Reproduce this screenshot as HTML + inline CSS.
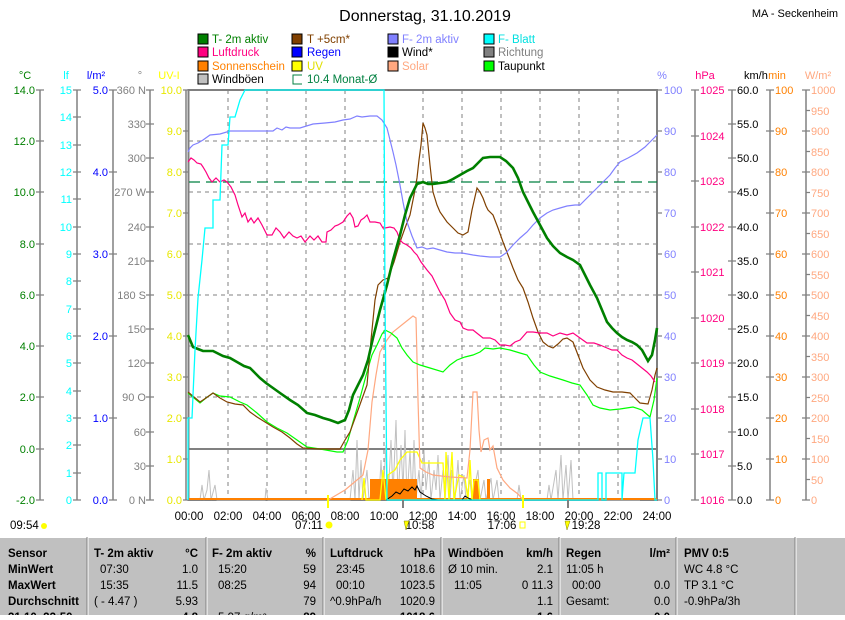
<!DOCTYPE html>
<html><head><meta charset="utf-8"><style>
body{margin:0;background:#fff;width:845px;height:615px;overflow:hidden;font-family:"Liberation Sans",sans-serif}
svg text{font-family:"Liberation Sans",sans-serif}
</style></head><body>
<svg width="845" height="615" viewBox="0 0 845 615" xmlns="http://www.w3.org/2000/svg">
<text x="425" y="21" font-size="16" text-anchor="middle">Donnerstag, 31.10.2019</text>
<text x="795" y="17" font-size="11" text-anchor="middle">MA - Seckenheim</text>
<!-- legend -->
<g font-size="11.5">
<rect x="198" y="34" width="10" height="10" fill="#008000" stroke="#000"/><text x="212" y="43" fill="#008000">T- 2m aktiv</text>
<rect x="292" y="34" width="10" height="10" fill="#804000" stroke="#000"/><text x="307" y="43" fill="#804000">T +5cm*</text>
<rect x="388" y="34" width="10" height="10" fill="#8080ff" stroke="#000"/><text x="402" y="43" fill="#8080ff">F- 2m aktiv</text>
<rect x="484" y="34" width="10" height="10" fill="#00ffff" stroke="#000"/><text x="498" y="43" fill="#00e0e0">F- Blatt</text>
<rect x="198" y="47" width="10" height="10" fill="#ff0080" stroke="#000"/><text x="212" y="56" fill="#ff0080">Luftdruck</text>
<rect x="292" y="47" width="10" height="10" fill="#0000ff" stroke="#000"/><text x="307" y="56" fill="#0000ff">Regen</text>
<rect x="388" y="47" width="10" height="10" fill="#000" stroke="#000"/><text x="402" y="56">Wind*</text>
<rect x="484" y="47" width="10" height="10" fill="#808080" stroke="#000"/><text x="498" y="56" fill="#808080">Richtung</text>
<rect x="198" y="61" width="10" height="10" fill="#ff8000" stroke="#000"/><text x="212" y="70" fill="#ff8000">Sonnenschein</text>
<rect x="292" y="61" width="10" height="10" fill="#ffff00" stroke="#000"/><text x="307" y="70" fill="#e0e000">UV</text>
<rect x="388" y="61" width="10" height="10" fill="#ffa880" stroke="#000"/><text x="402" y="70" fill="#ffa880">Solar</text>
<rect x="484" y="61" width="10" height="10" fill="#00ff00" stroke="#000"/><text x="498" y="70">Taupunkt</text>
<rect x="198" y="74" width="10" height="10" fill="#c0c0c0" stroke="#000"/><text x="212" y="83">Windböen</text>
<path d="M302 75 H293 V84 H302" fill="none" stroke="#008040"/><text x="307" y="83" fill="#008040">10.4 Monat-Ø</text>
</g>
<!-- units -->
<g font-size="11">
<text x="25" y="79" fill="#008000" text-anchor="middle">°C</text>
<text x="66" y="79" fill="#00ffff" text-anchor="middle">lf</text>
<text x="96" y="79" fill="#0000ff" text-anchor="middle">l/m²</text>
<text x="140" y="79" fill="#808080" text-anchor="middle">°</text>
<text x="169" y="79" fill="#ffff00" text-anchor="middle">UV-I</text>
<text x="662" y="79" fill="#8080ff" text-anchor="middle">%</text>
<text x="705" y="79" fill="#ff0080" text-anchor="middle">hPa</text>
<text x="744" y="79">km/h</text>
<text x="777" y="79" fill="#ff8000" text-anchor="middle">min</text>
<text x="818" y="79" fill="#ffa880" text-anchor="middle">W/m²</text>
</g>
<!-- axis lines -->
<g stroke="#808080" stroke-width="1.5">
<line x1="40" y1="90" x2="40" y2="500"/><line x1="77" y1="90" x2="77" y2="500"/>
<line x1="113" y1="90" x2="113" y2="500"/><line x1="150" y1="90" x2="150" y2="500"/>
<line x1="186" y1="90" x2="186" y2="500"/>
<line x1="695" y1="90" x2="695" y2="500"/><line x1="732" y1="90" x2="732" y2="500"/>
<line x1="770" y1="90" x2="770" y2="500"/><line x1="806" y1="90" x2="806" y2="500"/>
</g>
<!-- tick marks -->
<g stroke="#808080" stroke-width="1.2" fill="none">
<path d="M36 90H44M36 141H44M36 192H44M36 244H44M36 295H44M36 346H44M36 397H44M36 449H44M36 500H44"/>
<path d="M73 90H81M73 117H81M73 145H81M73 172H81M73 199H81M73 227H81M73 254H81M73 281H81M73 309H81M73 336H81M73 363H81M73 391H81M73 418H81M73 445H81M73 473H81M73 500H81"/>
<path d="M109 90H117M109 172H117M109 254H117M109 336H117M109 418H117M109 500H117"/>
<path d="M146 90H154M146 124H154M146 158H154M146 192H154M146 227H154M146 261H154M146 295H154M146 329H154M146 363H154M146 397H154M146 432H154M146 466H154M146 500H154"/>
<path d="M183 90H188M183 131H188M183 172H188M183 213H188M183 254H188M183 295H188M183 336H188M183 377H188M183 418H188M183 459H188M183 500H188"/>
<path d="M657 90H662M657 131H662M657 172H662M657 213H662M657 254H662M657 295H662M657 336H662M657 377H662M657 418H662M657 459H662M657 500H662"/>
<path d="M691 90H699M691 136H699M691 181H699M691 227H699M691 272H699M691 318H699M691 363H699M691 409H699M691 454H699M691 500H699"/>
<path d="M728 90H736M728 124H736M728 158H736M728 192H736M728 227H736M728 261H736M728 295H736M728 329H736M728 363H736M728 397H736M728 432H736M728 466H736M728 500H736"/>
<path d="M766 90H774M766 131H774M766 172H774M766 213H774M766 254H774M766 295H774M766 336H774M766 377H774M766 418H774M766 459H774M766 500H774"/>
<path d="M802 90H810M806 110.5H810M802 131H810M806 151.5H810M802 172H810M806 192.5H810M802 213H810M806 233.5H810M802 254H810M806 274.5H810M802 295H810M806 315.5H810M802 336H810M806 356.5H810M802 377H810M806 397.5H810M802 418H810M806 438.5H810M802 459H810M806 479.5H810M802 500H810"/>
</g>
<g font-size="11" fill="#008000" text-anchor="end">
<text x="35" y="94">14.0</text><text x="35" y="145">12.0</text><text x="35" y="196">10.0</text><text x="35" y="248">8.0</text><text x="35" y="299">6.0</text><text x="35" y="350">4.0</text><text x="35" y="401">2.0</text><text x="35" y="453">0.0</text><text x="35" y="504">-2.0</text>
</g>
<g font-size="11" fill="#00ffff" text-anchor="end">
<text x="72" y="94">15</text><text x="72" y="121">14</text><text x="72" y="149">13</text><text x="72" y="176">12</text><text x="72" y="203">11</text><text x="72" y="231">10</text><text x="72" y="258">9</text><text x="72" y="285">8</text><text x="72" y="313">7</text><text x="72" y="340">6</text><text x="72" y="367">5</text><text x="72" y="395">4</text><text x="72" y="422">3</text><text x="72" y="449">2</text><text x="72" y="477">1</text><text x="72" y="504">0</text>
</g>
<g font-size="11" fill="#0000ff" text-anchor="end">
<text x="108" y="94">5.0</text><text x="108" y="176">4.0</text><text x="108" y="258">3.0</text><text x="108" y="340">2.0</text><text x="108" y="422">1.0</text><text x="108" y="504">0.0</text>
</g>
<g font-size="11" fill="#808080" text-anchor="end">
<text x="146" y="94">360 N</text><text x="146" y="128">330</text><text x="146" y="162">300</text><text x="146" y="196">270 W</text><text x="146" y="231">240</text><text x="146" y="265">210</text><text x="146" y="299">180 S</text><text x="146" y="333">150</text><text x="146" y="367">120</text><text x="146" y="401">90 O</text><text x="146" y="436">60</text><text x="146" y="470">30</text><text x="146" y="504">0 N</text>
</g>
<g font-size="11" fill="#e8e800" text-anchor="end">
<text x="182" y="94">10.0</text><text x="182" y="135">9.0</text><text x="182" y="176">8.0</text><text x="182" y="217">7.0</text><text x="182" y="258">6.0</text><text x="182" y="299">5.0</text><text x="182" y="340">4.0</text><text x="182" y="381">3.0</text><text x="182" y="422">2.0</text><text x="182" y="463">1.0</text><text x="182" y="504">0.0</text>
</g>
<g font-size="11" fill="#8080ff">
<text x="664" y="94">100</text><text x="664" y="135">90</text><text x="664" y="176">80</text><text x="664" y="217">70</text><text x="664" y="258">60</text><text x="664" y="299">50</text><text x="664" y="340">40</text><text x="664" y="381">30</text><text x="664" y="422">20</text><text x="664" y="463">10</text><text x="664" y="504">0</text>
</g>
<g font-size="11" fill="#ff0080">
<text x="700" y="94">1025</text><text x="700" y="140">1024</text><text x="700" y="185">1023</text><text x="700" y="231">1022</text><text x="700" y="276">1021</text><text x="700" y="322">1020</text><text x="700" y="367">1019</text><text x="700" y="413">1018</text><text x="700" y="458">1017</text><text x="700" y="504">1016</text>
</g>
<g font-size="11">
<text x="737" y="94">60.0</text><text x="737" y="128">55.0</text><text x="737" y="162">50.0</text><text x="737" y="196">45.0</text><text x="737" y="231">40.0</text><text x="737" y="265">35.0</text><text x="737" y="299">30.0</text><text x="737" y="333">25.0</text><text x="737" y="367">20.0</text><text x="737" y="401">15.0</text><text x="737" y="436">10.0</text><text x="737" y="470">5.0</text><text x="737" y="504">0.0</text>
</g>
<g font-size="11" fill="#ff8000">
<text x="775" y="94">100</text><text x="775" y="135">90</text><text x="775" y="176">80</text><text x="775" y="217">70</text><text x="775" y="258">60</text><text x="775" y="299">50</text><text x="775" y="340">40</text><text x="775" y="381">30</text><text x="775" y="422">20</text><text x="775" y="463">10</text><text x="775" y="504">0</text>
</g>
<g font-size="11" fill="#ffa880">
<text x="811" y="94">1000</text><text x="811" y="115">950</text><text x="811" y="135">900</text><text x="811" y="156">850</text><text x="811" y="176">800</text><text x="811" y="197">750</text><text x="811" y="217">700</text><text x="811" y="238">650</text><text x="811" y="258">600</text><text x="811" y="279">550</text><text x="811" y="299">500</text><text x="811" y="320">450</text><text x="811" y="340">400</text><text x="811" y="361">350</text><text x="811" y="381">300</text><text x="811" y="402">250</text><text x="811" y="422">200</text><text x="811" y="443">150</text><text x="811" y="463">100</text><text x="811" y="484">50</text><text x="811" y="504">0</text>
</g>
<!-- grid -->
<g stroke="#808080" stroke-dasharray="4,4" stroke-width="1">
<line x1="228" y1="90" x2="228" y2="500"/><line x1="267" y1="90" x2="267" y2="500"/><line x1="306" y1="90" x2="306" y2="500"/><line x1="345" y1="90" x2="345" y2="500"/><line x1="384" y1="90" x2="384" y2="500"/><line x1="423" y1="90" x2="423" y2="500"/><line x1="462" y1="90" x2="462" y2="500"/><line x1="501" y1="90" x2="501" y2="500"/><line x1="540" y1="90" x2="540" y2="500"/><line x1="579" y1="90" x2="579" y2="500"/><line x1="618" y1="90" x2="618" y2="500"/>
<line x1="189" y1="141" x2="657" y2="141"/><line x1="189" y1="192" x2="657" y2="192"/><line x1="189" y1="244" x2="657" y2="244"/><line x1="189" y1="295" x2="657" y2="295"/><line x1="189" y1="346" x2="657" y2="346"/><line x1="189" y1="397" x2="657" y2="397"/>
</g>
<rect x="188.5" y="90" width="468.5" height="410" fill="none" stroke="#808080" stroke-width="2"/>
<line x1="189" y1="449" x2="657" y2="449" stroke="#808080" stroke-width="2"/>
<line x1="189" y1="182" x2="657" y2="182" stroke="#008040" stroke-dasharray="11,6" stroke-width="1.2"/>
<!-- gusts -->
<polyline fill="none" stroke="#c0c0c0" stroke-width="1" points="200,500 202,485 204,500 207,490 209,470 211,500 215,485 217,500 265,500 266,488 268,500 350,500 353,470 355,500 357,440 359,500 361,460 363,500 367,470 369,500 377,480 379,500 381,460 383,500 386,445 388,500 391,440 393,495 396,420 398,500 401,445 403,490 405,430 407,500 410,450 412,500 414,440 416,500 419,470 421,500 424,450 426,490 429,460 431,500 434,470 436,490 438,455 440,500 443,470 445,500 448,455 450,500 452,470 455,500 458,460 460,500 464,475 466,500 470,480 472,500 478,470 480,500 484,480 486,500 491,478 493,500 497,480 499,500 517,500 519,485 521,500 547,500 549,485 551,500 556,470 558,500 561,455 563,500 566,465 568,500 571,460 573,500 640,500"/>
<!-- sunshine bars -->
<rect x="370" y="479" width="47" height="21" fill="#ff8000"/>
<rect x="473" y="479" width="6" height="21" fill="#ff8000"/>
<rect x="487" y="479" width="3" height="21" fill="#ff8000"/>
<line x1="189" y1="499" x2="657" y2="499" stroke="#ff8000" stroke-width="2"/>
<!-- UV -->
<polyline fill="none" stroke="#ffff00" stroke-width="1.3" points="362,500 364,478 366,500 380,500 383,470 386,500 388,475 395,470 400,460 407,452 417,452 422,463 443,463 445,500 446,452 449,500 452,452 454,500 459,475 465,478 468,500 470,460 472,500 474,480 478,480 480,500"/>
<!-- solar -->
<polyline fill="none" stroke="#ffa880" stroke-width="1.2" points="328,500 345,490 363,475 368,450 372,402 376,375 380,352 387,340 393,332 403,324 413,316 416,318 418,400 420,468 426,472 433,475 450,477 467,478 470,450 473,392 477,392 479,430 481,452 484,440 488,438 490,450 493,446 497,468 503,480 510,488 518,494 523,500"/>
<!-- wind black -->
<polyline fill="none" stroke="#000" stroke-width="1" points="386,500 392,496 396,492 400,494 404,489 408,491 412,487 415,490 417,486 420,492 426,496 432,499 438,500 462,500 465,496 468,498 472,500"/>
<!-- dew point -->
<polyline fill="none" stroke="#00ff00" stroke-width="1.2" points="188,393 194,398 200,403 206,398 213,393 220,396 230,397 240,402 247,405 257,413 267,422 277,428 287,433 297,440 307,447 320,449 337,452 343,452 348,440 353,422 360,398 367,372 372,355 377,345 382,334 385,330 391,333 397,338 402,348 407,355 413,362 420,365 430,368 443,372 450,365 457,360 465,357 473,355 480,352 485,348 493,349 500,348 510,350 520,353 527,355 534,365 540,372 550,376 563,380 572,383 580,385 587,395 593,405 600,408 610,410 620,409 633,407 642,410 650,417 654,400 657,378"/>
<!-- T5cm -->
<polyline fill="none" stroke="#804000" stroke-width="1.2" points="188,392 194,397 200,402 206,398 213,393 220,398 227,402 235,404 243,405 250,412 257,417 265,422 273,427 282,432 290,438 297,444 303,448 320,449 340,449 345,440 350,432 358,410 367,385 371,340 375,300 378,285 383,280 388,278 394,262 400,242 405,228 410,215 414,195 417,178 419,160 421,145 423,123 425,128 427,135 430,165 433,192 437,205 440,212 447,222 453,228 458,233 463,235 468,232 472,210 477,188 480,192 483,198 486,206 488,210 493,215 498,228 503,242 508,255 513,268 518,280 523,288 528,302 533,318 538,332 543,342 548,346 553,348 558,344 563,339 567,338 573,342 578,355 583,368 590,380 597,387 605,390 613,392 622,392 630,393 635,398 640,403 648,404 652,390 655,375 657,368"/>
<!-- pressure -->
<polyline fill="none" stroke="#ff0080" stroke-width="1.2" points="188,162 191,158 194,160 197,163 201,164 203,167 206,172 209,178 212,182 216,178 220,182 224,180 227,182 231,187 235,195 238,205 242,217 245,213 248,222 251,218 254,223 258,218 262,225 267,235 272,235 276,228 280,232 284,238 289,232 293,236 297,238 301,236 305,242 310,236 314,240 318,236 322,242 326,242 327,232 331,230 335,226 338,225 343,222 347,216 350,213 353,218 355,227 358,226 361,220 364,218 367,215 370,222 375,222 380,223 383,228 385,228 390,227 394,228 397,232 400,240 403,243 407,245 411,248 414,252 417,255 421,262 424,266 427,270 432,276 437,286 440,292 445,300 450,313 455,320 460,322 463,328 468,330 473,330 478,334 483,338 490,338 495,340 500,345 505,345 510,346 515,342 520,340 527,332 533,332 540,333 547,333 553,336 560,333 567,335 573,333 580,338 587,343 594,343 600,345 607,348 612,350 617,350 622,355 627,358 632,360 637,364 642,368 647,372 651,376 655,382"/>
<!-- humidity -->
<polyline fill="none" stroke="#8080ff" stroke-width="1.2" points="188,152 190,148 193,145 198,143 203,140 210,135 220,134 230,131 245,131 260,131 273,131 277,128 282,130 286,127 290,128 300,128 313,124 325,123 335,122 343,120 350,119 357,116 362,117 370,116 377,116 382,120 387,128 390,140 393,152 396,165 400,185 403,202 407,222 412,236 417,248 422,247 427,249 433,248 440,250 447,252 455,253 462,253 473,255 480,256 490,257 500,257 506,253 513,245 520,238 527,232 533,225 540,218 547,213 553,210 560,208 567,206 575,205 580,205 586,199 592,193 597,188 603,182 610,175 615,168 620,162 628,158 637,153 645,147 650,142 654,138 657,135"/>
<!-- T2m -->
<polyline fill="none" stroke="#008000" stroke-width="2.6" points="188,335 193,347 198,349 203,351 213,351 223,356 230,358 237,362 244,366 250,368 255,373 260,378 266,383 273,388 280,393 290,400 298,405 307,413 315,415 323,418 330,420 338,423 345,420 349,410 353,395 358,385 363,375 368,360 373,338 380,310 387,285 393,260 400,235 405,215 410,198 414,190 417,184 423,182 428,184 433,184 440,183 447,182 453,179 460,175 467,171 473,168 478,163 483,158 490,157 500,157 506,161 513,168 518,178 523,192 528,202 533,212 540,225 547,238 553,246 560,253 567,257 573,260 580,265 585,275 590,285 597,298 602,310 607,322 612,328 617,333 622,337 627,340 632,342 637,345 642,350 648,361 652,355 655,340 657,328"/>
<!-- leaf wetness -->
<polyline fill="none" stroke="#00ffff" stroke-width="1.3" points="188,500 188,418 192,418 195,350 198,298 202,260 205,228 213,228 213,200 220,200 222,145 228,145 230,117 235,117 240,100 245,90 384,90 385,300 387,500 598,500 598,473 602,473 602,500 606,500 606,473 622,473 622,500 624,473 635,473 638,440 643,418 650,418 653,460 655,500 657,500"/>
<!-- markers -->
<line x1="328" y1="495" x2="328" y2="508" stroke="#ffff00" stroke-width="2"/>
<line x1="523" y1="495" x2="523" y2="508" stroke="#ffff00" stroke-width="2"/>
<line x1="403" y1="500" x2="403" y2="508" stroke="#808080" stroke-width="2"/>
<line x1="568" y1="500" x2="568" y2="508" stroke="#808080" stroke-width="2"/>
<!-- x labels -->
<g font-size="11.5" text-anchor="middle">
<text x="189" y="520">00:00</text><text x="228" y="520">02:00</text><text x="267" y="520">04:00</text><text x="306" y="520">06:00</text><text x="345" y="520">08:00</text><text x="384" y="520">10:00</text><text x="423" y="520">12:00</text><text x="462" y="520">14:00</text><text x="501" y="520">16:00</text><text x="540" y="520">18:00</text><text x="579" y="520">20:00</text><text x="618" y="520">22:00</text><text x="657" y="520">24:00</text>
<text x="309" y="529">07:11</text><text x="420" y="529">10:58</text><text x="502" y="529">17:06</text><text x="586" y="529">19:28</text>
</g>
<text x="10" y="529" font-size="11.5">09:54</text>
<circle cx="44" cy="526" r="3" fill="#ffff00"/>
<circle cx="329" cy="525" r="3.5" fill="#ffff00"/>
<rect x="520" y="522" width="5" height="6" fill="none" stroke="#ffff00"/>
<path d="M404 521 L406 530 L409 521 Z" fill="#ffff00" stroke="#808000" stroke-width="0.5"/>
<path d="M565 521 L567 530 L570 521 Z" fill="#ffff00" stroke="#808000" stroke-width="0.5"/>
<!-- table -->
<rect x="0" y="537" width="845" height="78" fill="#c0c0c0"/>
<g stroke="#ffffff" stroke-width="1"><line x1="0" y1="537.5" x2="845" y2="537.5"/></g>
<g stroke="#808080" stroke-width="1">
<line x1="87" y1="537" x2="87" y2="615"/><line x1="206" y1="537" x2="206" y2="615"/><line x1="323" y1="537" x2="323" y2="615"/><line x1="441" y1="537" x2="441" y2="615"/><line x1="559" y1="537" x2="559" y2="615"/><line x1="676" y1="537" x2="676" y2="615"/><line x1="795" y1="537" x2="795" y2="615"/>
</g>
<g stroke="#fff" stroke-width="1">
<line x1="88" y1="537" x2="88" y2="615"/><line x1="207" y1="537" x2="207" y2="615"/><line x1="324" y1="537" x2="324" y2="615"/><line x1="442" y1="537" x2="442" y2="615"/><line x1="560" y1="537" x2="560" y2="615"/><line x1="677" y1="537" x2="677" y2="615"/><line x1="796" y1="537" x2="796" y2="615"/>
</g>
<g font-size="11.5" font-weight="bold">
<text x="8" y="557">Sensor</text><text x="8" y="573">MinWert</text><text x="8" y="589">MaxWert</text><text x="8" y="605">Durchschnitt</text><text x="8" y="621">31.10. 23:50</text>
<text x="94" y="557">T- 2m aktiv</text><text x="198" y="557" text-anchor="end">°C</text>
<text x="212" y="557">F- 2m aktiv</text><text x="316" y="557" text-anchor="end">%</text>
<text x="330" y="557">Luftdruck</text><text x="435" y="557" text-anchor="end">hPa</text>
<text x="448" y="557">Windböen</text><text x="553" y="557" text-anchor="end">km/h</text>
<text x="566" y="557">Regen</text><text x="670" y="557" text-anchor="end">l/m²</text>
<text x="684" y="557">PMV 0:5</text>
</g>
<g font-size="11.5">
<text x="100" y="573">07:30</text><text x="198" y="573" text-anchor="end">1.0</text>
<text x="100" y="589">15:35</text><text x="198" y="589" text-anchor="end">11.5</text>
<text x="94" y="605">( - 4.47 )</text><text x="198" y="605" text-anchor="end">5.93</text>
<text x="218" y="573">15:20</text><text x="316" y="573" text-anchor="end">59</text>
<text x="218" y="589">08:25</text><text x="316" y="589" text-anchor="end">94</text>
<text x="316" y="605" text-anchor="end">79</text>
<text x="336" y="573">23:45</text><text x="435" y="573" text-anchor="end">1018.6</text>
<text x="336" y="589">00:10</text><text x="435" y="589" text-anchor="end">1023.5</text>
<text x="330" y="605">^0.9hPa/h</text><text x="435" y="605" text-anchor="end">1020.9</text>
<text x="448" y="573">Ø 10 min.</text><text x="553" y="573" text-anchor="end">2.1</text>
<text x="454" y="589">11:05</text><text x="553" y="589" text-anchor="end">0 11.3</text>
<text x="553" y="605" text-anchor="end">1.1</text>
<text x="566" y="573">11:05 h</text>
<text x="572" y="589">00:00</text><text x="670" y="589" text-anchor="end">0.0</text>
<text x="566" y="605">Gesamt:</text><text x="670" y="605" text-anchor="end">0.0</text>
<text x="684" y="573">WC 4.8 °C</text><text x="684" y="589">TP 3.1 °C</text><text x="684" y="605">-0.9hPa/3h</text>
<text x="218" y="621">5.97 g/m³</text><text x="316" y="621" text-anchor="end" font-weight="bold">89</text>
<text x="435" y="621" text-anchor="end" font-weight="bold">1018.6</text>
<text x="553" y="621" text-anchor="end" font-weight="bold">1.6</text>
<text x="670" y="621" text-anchor="end" font-weight="bold">0.0</text>
<text x="198" y="621" text-anchor="end" font-weight="bold">4.8</text>
</g>
</svg>
</body></html>
